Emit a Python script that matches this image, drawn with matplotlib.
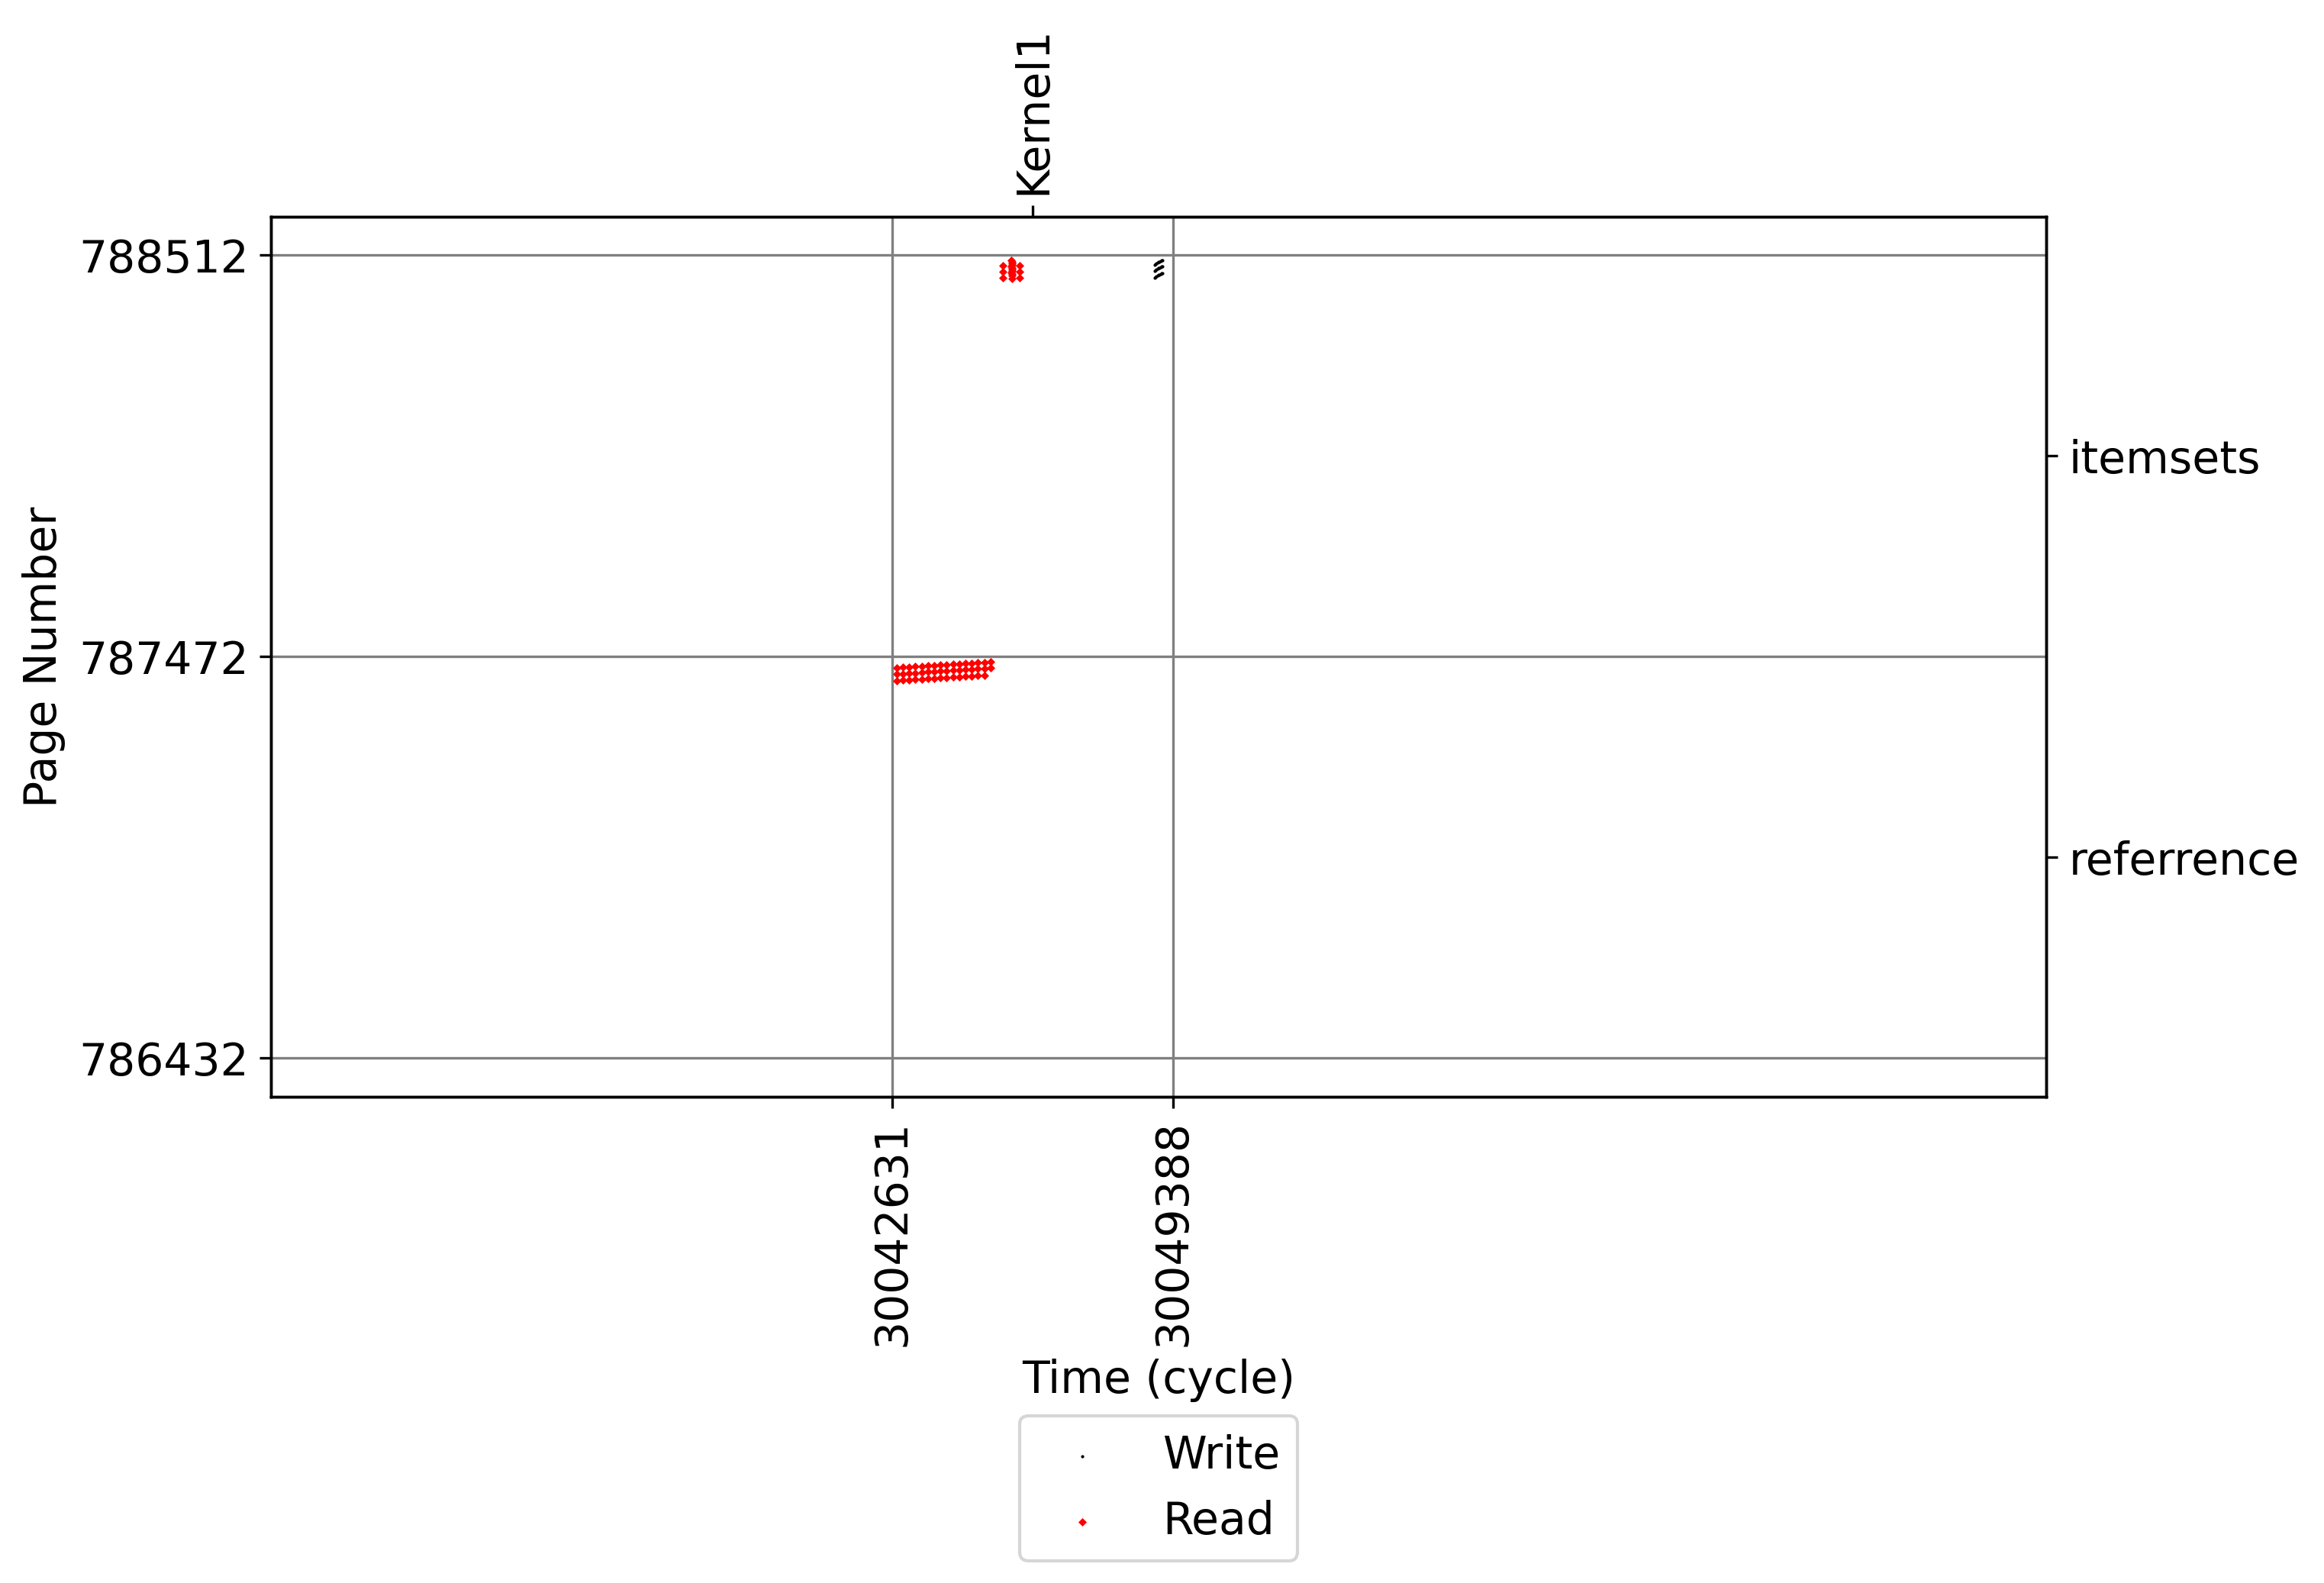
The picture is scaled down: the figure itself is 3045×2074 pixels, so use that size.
"""
Page access trace: read / write page numbers over time (cycles)
"""
import matplotlib
matplotlib.use('Agg')
import matplotlib.pyplot as plt

plt.rcParams['font.size'] = 14

# ---- data ----
x_ticks = [30042631, 30049388]
y_ticks = [786432, 787472, 788512]

kernel_times = [30046020]
kernel_names = ['Kernel1']

region_centers = [787992, 786952]
region_names = ['itemsets', 'referrence']

# Read accesses: band near 787472 (3 rows) + cluster near 788512
read_time = [
    30042741, 30042892, 30043042, 30043193, 30043343, 30043494, 30043645, 30043795,
    30043946, 30044096, 30044247, 30044398, 30044548, 30044699, 30044849, 30045000,
    30042741, 30042892, 30043042, 30043193, 30043343, 30043494, 30043645, 30043795,
    30043946, 30044096, 30044247, 30044398, 30044548, 30044699, 30044849, 30045000,
    30042741, 30042892, 30043042, 30043193, 30043343, 30043494, 30043645, 30043795,
    30043946, 30044096, 30044247, 30044398, 30044548, 30044699, 30044849,
    30045293, 30045293, 30045293,
    30045697, 30045697, 30045697,
    30045505, 30045510, 30045515, 30045520, 30045505, 30045510, 30045515, 30045520,
    30045505, 30045510, 30045515, 30045520,
]
read_page = [
    787443, 787444, 787445, 787446, 787447, 787448, 787449, 787450,
    787451, 787452, 787453, 787454, 787455, 787456, 787457, 787458,
    787427, 787428, 787429, 787430, 787431, 787432, 787433, 787434,
    787435, 787436, 787437, 787438, 787439, 787440, 787441, 787443,
    787410, 787411, 787412, 787413, 787414, 787415, 787416, 787417,
    787418, 787419, 787420, 787421, 787422, 787423, 787424,
    788484, 788469, 788453,
    788484, 788469, 788453,
    788498, 788494, 788490, 788486, 788482, 788478, 788474, 788470,
    788466, 788462, 788458, 788452,
]

# Write accesses: three short diagonal strokes just left of 30049388
write_time = [
    30048947, 30048972, 30048996, 30049021, 30049045, 30049070, 30049094, 30049119, 30049131,
    30048947, 30048972, 30048996, 30049021, 30049045, 30049070, 30049094, 30049119, 30049131,
    30048947, 30048972, 30048996, 30049021, 30049045, 30049070, 30049094, 30049119, 30049131,
]
write_page = [
    788487, 788489, 788490, 788492, 788494, 788495, 788497, 788498, 788499,
    788471, 788473, 788474, 788476, 788478, 788479, 788481, 788482, 788483,
    788453, 788455, 788456, 788458, 788460, 788461, 788463, 788464, 788465,
]

x_limits = (30027685, 30070411)
y_limits = (786332, 788612)

# ---- figure ----
fig = plt.figure(figsize=(10.15, 6.9147), dpi=300)
ax = fig.add_axes([0.1166, 0.3071, 0.764, 0.556])

ax.scatter(write_time, write_page, s=4, marker='.', c='black',
           linewidths=0, label='Write', zorder=3)
ax.scatter(read_time, read_page, s=3.5, marker='D', c='red',
           linewidths=0, label='Read', zorder=3)

ax.set_xlim(*x_limits)
ax.set_ylim(*y_limits)
ax.set_xticks(x_ticks)
ax.set_xticklabels([str(t) for t in x_ticks], rotation=90)
ax.set_yticks(y_ticks)
ax.set_yticklabels([str(p) for p in y_ticks])
ax.grid(True, color='gray', linewidth=0.8)
ax.set_axisbelow(True)
ax.set_xlabel('Time (cycle)')
ax.set_ylabel('Page Number')

# kernel markers on top
ax_top = ax.twiny()
ax_top.set_xlim(*x_limits)
ax_top.set_xticks(kernel_times)
ax_top.set_xticklabels(kernel_names, rotation=90)

# data structure regions on right
ax_right = ax.twinx()
ax_right.set_ylim(*y_limits)
ax_right.set_yticks(region_centers)
ax_right.set_yticklabels(region_names)

ax.legend(loc='upper center', bbox_to_anchor=(0.5, -0.337))

fig.savefig('out.png', dpi=300)
plt.close(fig)
